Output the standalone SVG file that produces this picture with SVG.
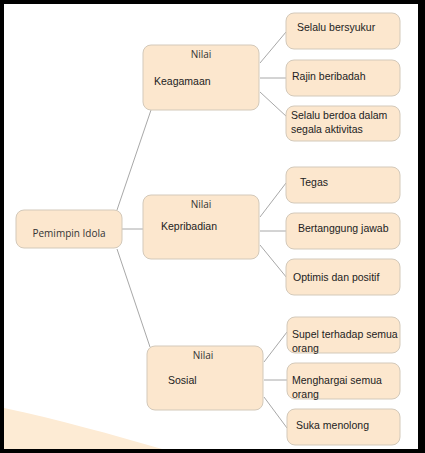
<svg xmlns="http://www.w3.org/2000/svg" width="425" height="453" viewBox="0 0 425 453">
<style>
.box{fill:#FCE7CE;stroke:#D3C9BA;stroke-width:1}
.t{font-family:"Liberation Sans",Arial,sans-serif;font-size:10.5px;fill:#222}
.r{font-family:"Open Sans","DejaVu Sans",sans-serif;font-size:10px;fill:#333}
.c{stroke:#A8A8A8;stroke-width:1;fill:none}
</style>
<rect x="0" y="0" width="425" height="453" fill="#000"/>
<rect x="4" y="4" width="414" height="445" fill="#fff"/>
<path d="M4,408 C60,420 110,434 162,449 L4,449 Z" fill="#FDEBD4"/>
<g id="connectors">
<line class="c" x1="117" y1="210" x2="151" y2="110"/>
<line class="c" x1="122" y1="229" x2="143" y2="229"/>
<line class="c" x1="117" y1="249" x2="150" y2="347"/>
<line class="c" x1="260" y1="63" x2="286" y2="32"/>
<line class="c" x1="260" y1="78" x2="286" y2="78"/>
<line class="c" x1="260" y1="92" x2="287" y2="117"/>
<line class="c" x1="260" y1="217" x2="286" y2="183"/>
<line class="c" x1="260" y1="231" x2="286" y2="231"/>
<line class="c" x1="260" y1="245" x2="287" y2="278"/>
<line class="c" x1="264" y1="362" x2="287" y2="332"/>
<line class="c" x1="264" y1="380" x2="287" y2="380"/>
<line class="c" x1="264" y1="397" x2="287" y2="428"/>
</g>
<g id="root">
<rect class="box" x="16" y="210" width="106" height="38" rx="8"/>
<text class="r" x="69" y="237" text-anchor="middle">Pemimpin Idola</text>
</g>
<g id="keagamaan">
<rect class="box" x="143" y="45" width="116" height="65" rx="8"/>
<text class="r" x="201" y="58" text-anchor="middle">Nilai</text>
<text class="t" x="154" y="85">Keagamaan</text>
</g>
<g id="kepribadian">
<rect class="box" x="143" y="195" width="116" height="64" rx="8"/>
<text class="r" x="201" y="208" text-anchor="middle">Nilai</text>
<text class="t" x="161" y="230">Kepribadian</text>
</g>
<g id="sosial">
<rect class="box" x="147" y="346" width="116" height="64" rx="8"/>
<text class="r" x="203" y="359" text-anchor="middle">Nilai</text>
<text class="t" x="168" y="384">Sosial</text>
</g>
<g id="n1">
<rect class="box" x="286" y="13" width="114" height="36" rx="8"/>
<text class="t" x="297" y="31">Selalu bersyukur</text>
</g>
<g id="n2">
<rect class="box" x="286" y="60" width="114" height="36" rx="8"/>
<text class="t" x="292" y="80">Rajin beribadah</text>
</g>
<g id="n3">
<rect class="box" x="286" y="106" width="114" height="35" rx="8"/>
<text class="t" x="291" y="119">Selalu berdoa dalam</text>
<text class="t" x="291" y="133">segala aktivitas</text>
</g>
<g id="n4">
<rect class="box" x="286" y="167" width="114" height="36" rx="8"/>
<text class="t" x="300" y="186">Tegas</text>
</g>
<g id="n5">
<rect class="box" x="286" y="213" width="114" height="36" rx="8"/>
<text class="t" x="298" y="232">Bertanggung jawab</text>
</g>
<g id="n6">
<rect class="box" x="286" y="259" width="114" height="36" rx="8"/>
<text class="t" x="293" y="281">Optimis dan positif</text>
</g>
<g id="n7">
<rect class="box" x="287" y="317" width="113" height="36" rx="8"/>
<text class="t" x="292" y="338">Supel terhadap semua</text>
<text class="t" x="292" y="352">orang</text>
</g>
<g id="n8">
<rect class="box" x="287" y="363" width="113" height="36" rx="8"/>
<text class="t" x="292" y="384">Menghargai semua</text>
<text class="t" x="292" y="398">orang</text>
</g>
<g id="n9">
<rect class="box" x="287" y="409" width="113" height="36" rx="8"/>
<text class="t" x="296" y="429">Suka menolong</text>
</g>
</svg>
